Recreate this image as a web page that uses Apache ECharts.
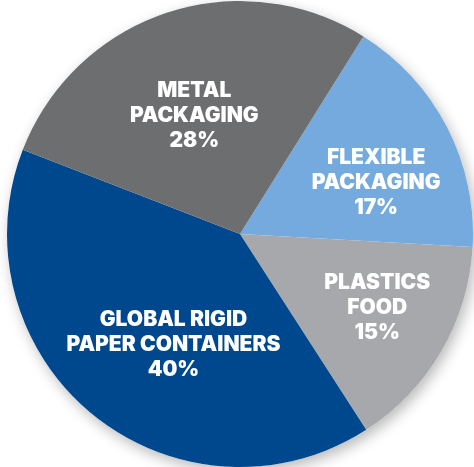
<!DOCTYPE html>
<html>
<head>
<meta charset="utf-8">
<script src="https://cdn.jsdelivr.net/npm/echarts@6/dist/echarts.min.js"></script>
<style>
html,body{margin:0;padding:0;background:#fff;}
#chart{width:474px;height:467px;}
</style>
</head>
<body>
<div id="chart"></div>
<script>
// Data
const categories = ['FLEXIBLE\nPACKAGING', 'PLASTICS\nFOOD', 'GLOBAL RIGID\nPAPER CONTAINERS', 'METAL\nPACKAGING'];
const shares = [17, 15, 40, 28];

// Styling
const sliceColors = ['#74aadd', '#a7a8ab', '#00488d', '#6d6e70'];
const labelNudge = [[30, 4], [34, 14], [9, 18], [-8, -5]];

const chart = echarts.init(document.getElementById('chart'), null, {renderer: 'canvas'});
const center = [240, 234];
const radius = 233;

chart.setOption({
  animation: false,
  series: [
    {
      type: 'pie',
      silent: true,
      z: 1,
      center: center,
      radius: radius,
      label: {show: false},
      labelLine: {show: false},
      itemStyle: {color: '#ffffff', shadowBlur: 14, shadowColor: 'rgba(0,0,0,0.28)', shadowOffsetX: 3, shadowOffsetY: 5},
      data: [{value: 1}]
    },
    {
      type: 'pie',
      z: 2,
      center: center,
      radius: radius,
      startAngle: 58,
      clockwise: true,
      avoidLabelOverlap: false,
      itemStyle: {borderWidth: 0},
      label: {
        show: true,
        position: 'inside',
        color: '#ffffff',
        fontFamily: 'Inter, Roboto, sans-serif',
        fontWeight: 900,
        fontSize: 21,
        lineHeight: 25,
        align: 'center',
        formatter: p => p.name + '\n' + p.value + '%'
      },
      labelLine: {show: false},
      data: categories.map((c, i) => ({
        name: c,
        value: shares[i],
        itemStyle: {color: sliceColors[i]},
        label: {offset: labelNudge[i]}
      }))
    }
  ]
});
</script>
</body>
</html>
